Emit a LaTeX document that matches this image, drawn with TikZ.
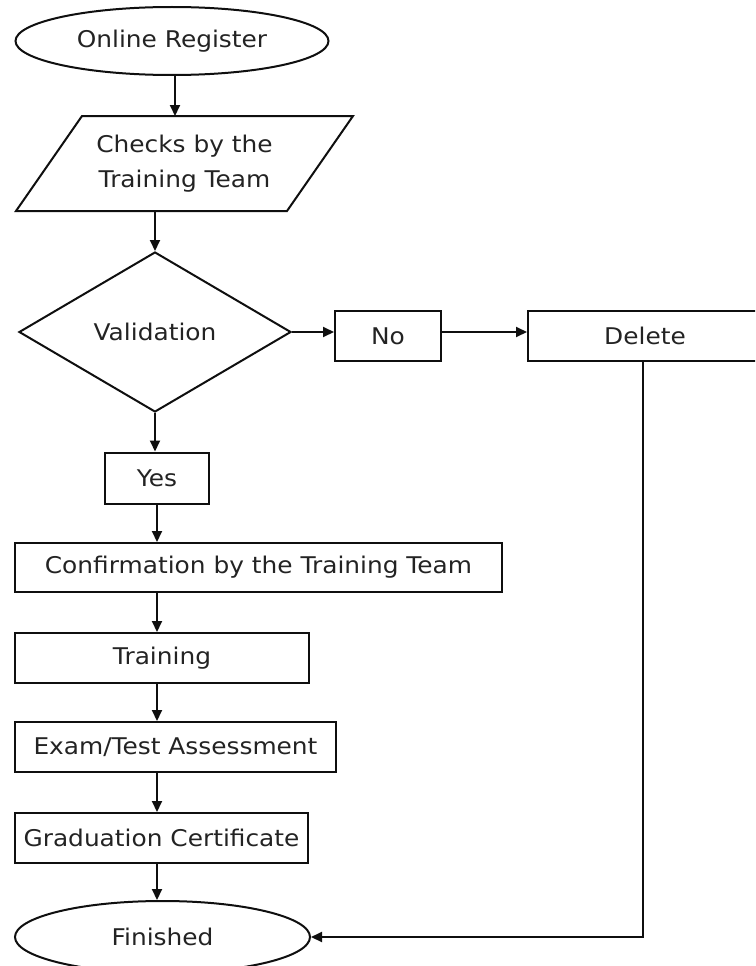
\documentclass[tikz,border=0pt]{standalone}
\usepackage{fontspec}
\setmainfont{DejaVu Sans}[FakeStretch=1.08]
\usetikzlibrary{shapes.geometric,arrows.meta}
\definecolor{txt}{RGB}{35,35,35}
\definecolor{ln}{RGB}{15,15,15}
\tikzset{
  base/.style={text=txt, font=\fontsize{23}{35}\selectfont, line width=2pt, draw=ln, inner sep=0pt},
  term/.style={base, ellipse},
  proc/.style={base, rectangle},
  dec/.style={base, diamond},
  io/.style={base, rectangle, draw=none, align=center},
  conn/.style={line width=2pt, draw=ln, -{Triangle[length=11pt,width=10pt]}},
  plain/.style={line width=2pt, draw=ln}
}
\begin{document}
\begin{tikzpicture}[x=1pt,y=-1pt]
\useasboundingbox (0,0) rectangle (755,966);
\begin{scope}
\clip (0,0) rectangle (755,966);
\node[term, minimum width=313pt, minimum height=68pt] (reg) at (172,41) {Online Register};
\node[io, minimum width=269pt, minimum height=93pt] (checks) at (184.5,163.5) {Checks by the\\Training Team};
\draw[plain] ([xshift=33pt]checks.north west) -- ([xshift=33pt]checks.north east)
  -- ([xshift=-33pt]checks.south east) -- ([xshift=-33pt]checks.south west) -- cycle;
\node[dec, minimum width=272pt, minimum height=160pt] (valid) at (155,332) {Validation};
\node[proc, minimum width=106pt, minimum height=50pt] (no) at (388,336) {No};
\node[proc, minimum width=234pt, minimum height=50pt] (delete) at (645,336) {Delete};
\node[proc, minimum width=104pt, minimum height=51pt] (yes) at (157,478) {Yes};
\node[proc, minimum width=487pt, minimum height=49pt] (conf) at (258.5,567.5) {Confirmation by the Training Team};
\node[proc, minimum width=294pt, minimum height=50pt] (train) at (162,658) {Training};
\node[proc, minimum width=321pt, minimum height=50pt] (exam) at (175.5,747) {Exam/Test Assessment};
\node[proc, minimum width=293pt, minimum height=50pt] (grad) at (161.5,838) {Graduation Certificate};
\node[term, minimum width=295pt, minimum height=72pt] (fin) at (162.5,937) {Finished};

\draw[conn] ([xshift=3pt]reg.south) -- ([xshift=3pt]reg.south |- checks.north);
\draw[conn] (valid.north |- checks.south) -- (valid.north);
\draw[conn] (valid.east) -- (valid.east -| no.west);
\draw[conn] (valid.east -| no.east) -- (valid.east -| delete.west);
\draw[conn] ([xshift=-2pt]delete.south) |- (fin.east);
\draw[conn] (valid.south) -- (valid.south |- yes.north);
\draw[conn] (yes.south) -- (yes.south |- conf.north);
\draw[conn] (yes.south |- conf.south) -- (yes.south |- train.north);
\draw[conn] (yes.south |- train.south) -- (yes.south |- exam.north);
\draw[conn] (yes.south |- exam.south) -- (yes.south |- grad.north);
\draw[conn] (yes.south |- grad.south) -- (yes.south |- fin.north);
\end{scope}
\end{tikzpicture}
\end{document}
